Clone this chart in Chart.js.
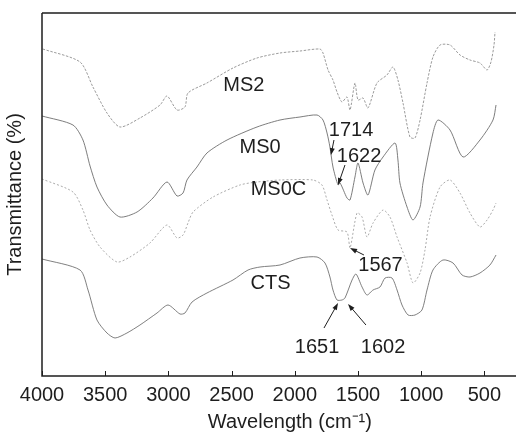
<!DOCTYPE html>
<html>
<head>
<meta charset="utf-8">
<script src="https://cdn.jsdelivr.net/npm/chart.js@4/dist/chart.umd.min.js"></script>
<style>
  html, body { margin: 0; padding: 0; background: #fff; }
  #wrap { width: 516px; height: 438px; }
</style>
</head>
<body>
<div id="wrap"><canvas id="c" width="516" height="438"></canvas></div>
<script>
// ---- data (wavenumber in cm^-1, transmittance in arbitrary offset units) ----
const xTicks = [4000, 3500, 3000, 2500, 2000, 1500, 1000, 500];

const ms2Wn = [3994,3699,3597,3486,3383,3225,3066,3011,2932,2869,2845,2695,2489,2299,2117,1959,1801,1777,1737,1698,1666,1627,1587,1563,1524,1500,1460,1421,1350,1271,1223,1184,1144,1089,1049,1009,954,907,851,772,693,614,535,479,448,424,416];
const ms2T  = [327,314,289,263,249,258,271,280,266,269,283,293,308,318,323,325,327,323,306,296,284,274,279,266,293,276,278,268,293,301,309,296,273,239,238,256,293,319,331,331,321,316,313,306,314,331,344];

const ms0Wn = [4000,3755,3676,3620,3565,3486,3383,3248,3122,3011,2932,2884,2853,2774,2695,2536,2299,2117,1959,1824,1777,1745,1722,1698,1658,1642,1587,1563,1524,1500,1460,1421,1366,1302,1207,1184,1168,1112,1065,1009,986,907,867,772,669,535,432,408];
const ms0T  = [260,251,236,210,189,171,159,164,178,194,180,183,196,209,223,236,249,256,259,261,256,243,229,209,191,193,178,176,199,213,193,181,206,219,233,216,193,169,156,169,193,243,256,246,219,236,256,271];

const ms0cWn = [4000,3755,3676,3620,3541,3407,3304,3146,3011,2932,2884,2845,2805,2647,2434,2299,2117,1856,1785,1745,1706,1658,1587,1563,1508,1468,1429,1381,1302,1247,1191,1112,1065,1009,970,930,851,772,693,614,535,479,432,408];
const ms0cT  = [197,184,166,146,129,114,119,133,151,138,141,153,164,179,191,194,196,196,191,176,161,146,144,128,163,159,139,153,166,159,139,113,93,103,126,159,189,196,183,163,149,156,166,173];

const ctsWn = [4000,3699,3636,3565,3486,3422,3328,3225,3090,3003,2908,2869,2813,2695,2489,2370,2275,2117,1959,1824,1761,1722,1698,1666,1627,1603,1547,1516,1468,1429,1381,1326,1286,1231,1191,1152,1104,1049,994,954,907,828,748,677,614,535,456,408];
const ctsT  = [117,106,86,56,43,38,43,51,63,71,62,63,74,83,96,106,109,111,118,119,113,99,86,76,76,78,96,102,89,81,86,89,98,98,86,71,61,61,66,86,106,116,113,101,99,103,111,121];

// curve labels (data units: wavenumber, transmittance)
const seriesNames = ['MS2', 'MS0', 'MS0C', 'CTS'];
const nameWn = [2403, 2275, 2129, 2192];
const nameT  = [291, 229, 187, 93];

// peak annotations: text position and arrow tail -> tip
const peakText  = ['1714', '1622', '1567', '1651', '1602'];
const peakTxtWn = [1555, 1492, 1322, 1824, 1302];
const peakTxtT  = [246, 220, 111, 29, 29];
const arrowFromWn = [1690, 1603, 1453, 1769, 1437];
const arrowFromT  = [236, 211, 121, 48, 51];
const arrowToWn   = [1714, 1658, 1563, 1658, 1579];
const arrowToT    = [221, 191, 128, 73, 72];

const toPts = (wn, t) => wn.map((x, i) => ({ x: x, y: t[i] }));

const FONT = '"Liberation Sans", Arial, Helvetica, sans-serif';
const INK = '#1e1e1e';

const decor = {
  id: 'decor',
  afterDraw(chart) {
    const ctx = chart.ctx;
    const ca = chart.chartArea;
    const xs = chart.scales.x, ys = chart.scales.y;
    ctx.save();
    // frame: left, bottom, top
    ctx.strokeStyle = INK;
    ctx.lineWidth = 1.5;
    ctx.beginPath();
    ctx.moveTo(ca.left, ca.top); ctx.lineTo(ca.right, ca.top);
    ctx.moveTo(ca.left, ca.top); ctx.lineTo(ca.left, ca.bottom);
    ctx.lineTo(ca.right, ca.bottom);
    ctx.stroke();
    // inward ticks
    ctx.lineWidth = 1;
    ctx.beginPath();
    xTicks.forEach(v => {
      const px = Math.round(xs.getPixelForValue(v)) + 0.5;
      ctx.moveTo(px, ca.bottom); ctx.lineTo(px, ca.bottom - 5);
    });
    ctx.stroke();
    // series names
    ctx.fillStyle = INK;
    ctx.font = '20px ' + FONT;
    ctx.textAlign = 'center';
    ctx.textBaseline = 'middle';
    seriesNames.forEach((s, i) => {
      ctx.fillText(s, xs.getPixelForValue(nameWn[i]), ys.getPixelForValue(nameT[i]));
    });
    peakText.forEach((s, i) => {
      ctx.fillText(s, xs.getPixelForValue(peakTxtWn[i]), ys.getPixelForValue(peakTxtT[i]));
    });
    // arrows
    ctx.strokeStyle = INK;
    ctx.lineWidth = 1;
    arrowFromWn.forEach((w, i) => {
      const x0 = xs.getPixelForValue(w), y0 = ys.getPixelForValue(arrowFromT[i]);
      const x1 = xs.getPixelForValue(arrowToWn[i]), y1 = ys.getPixelForValue(arrowToT[i]);
      const a = Math.atan2(y1 - y0, x1 - x0);
      const L = 7, W = 2.5;
      ctx.beginPath();
      ctx.moveTo(x0, y0);
      ctx.lineTo(x1 - Math.cos(a) * L * 0.8, y1 - Math.sin(a) * L * 0.8);
      ctx.stroke();
      ctx.beginPath();
      ctx.moveTo(x1, y1);
      ctx.lineTo(x1 - Math.cos(a) * L - Math.sin(a) * W, y1 - Math.sin(a) * L + Math.cos(a) * W);
      ctx.lineTo(x1 - Math.cos(a) * L + Math.sin(a) * W, y1 - Math.sin(a) * L - Math.cos(a) * W);
      ctx.closePath();
      ctx.fill();
    });
    // x axis title
    ctx.font = '20px ' + FONT;
    ctx.textBaseline = 'middle';
    ctx.textAlign = 'center';
    ctx.fillText('Wavelength (cm\u207B\u00B9)', ca.left + ca.width * 0.523, ca.bottom + 46);
    ctx.restore();
  }
};

new Chart(document.getElementById('c'), {
  type: 'line',
  data: {
    datasets: [
      { label: 'MS2', data: toPts(ms2Wn, ms2T), borderColor: '#8e8e8e', borderWidth: 0.9, borderDash: [2.5, 1.5] },
      { label: 'MS0', data: toPts(ms0Wn, ms0T), borderColor: '#6e6e6e', borderWidth: 0.9 },
      { label: 'MS0C', data: toPts(ms0cWn, ms0cT), borderColor: '#a2a2a2', borderWidth: 0.9, borderDash: [2, 2] },
      { label: 'CTS', data: toPts(ctsWn, ctsT), borderColor: '#727272', borderWidth: 0.9 }
    ]
  },
  options: {
    responsive: false,
    animation: false,
    devicePixelRatio: 1,
    elements: { point: { radius: 0 }, line: { tension: 0.25, fill: false } },
    layout: { padding: { top: 13, right: 0, left: 0, bottom: 0 } },
    plugins: { legend: { display: false }, tooltip: { enabled: false } },
    scales: {
      x: {
        type: 'linear',
        reverse: true,
        min: 250,
        max: 4000,
        afterBuildTicks: (s) => { s.ticks = xTicks.map(v => ({ value: v })); },
        afterFit: (s) => { s.height = 62; },
        grid: { display: false, drawTicks: false },
        border: { display: false },
        ticks: {
          color: INK, font: { family: FONT, size: 20 }, padding: 7, maxRotation: 0, autoSkip: false,
          callback: (v) => String(v)
        }
      },
      y: {
        min: 0,
        max: 363,
        afterFit: (s) => { s.width = 42; },
        grid: { display: false, drawTicks: false },
        border: { display: false },
        ticks: { display: false },
        title: { display: true, text: 'Transmittance (%)', color: INK, font: { family: FONT, size: 20 }, padding: { top: 3, bottom: 0 } }
      }
    }
  },
  plugins: [decor]
});
</script>
</body>
</html>
